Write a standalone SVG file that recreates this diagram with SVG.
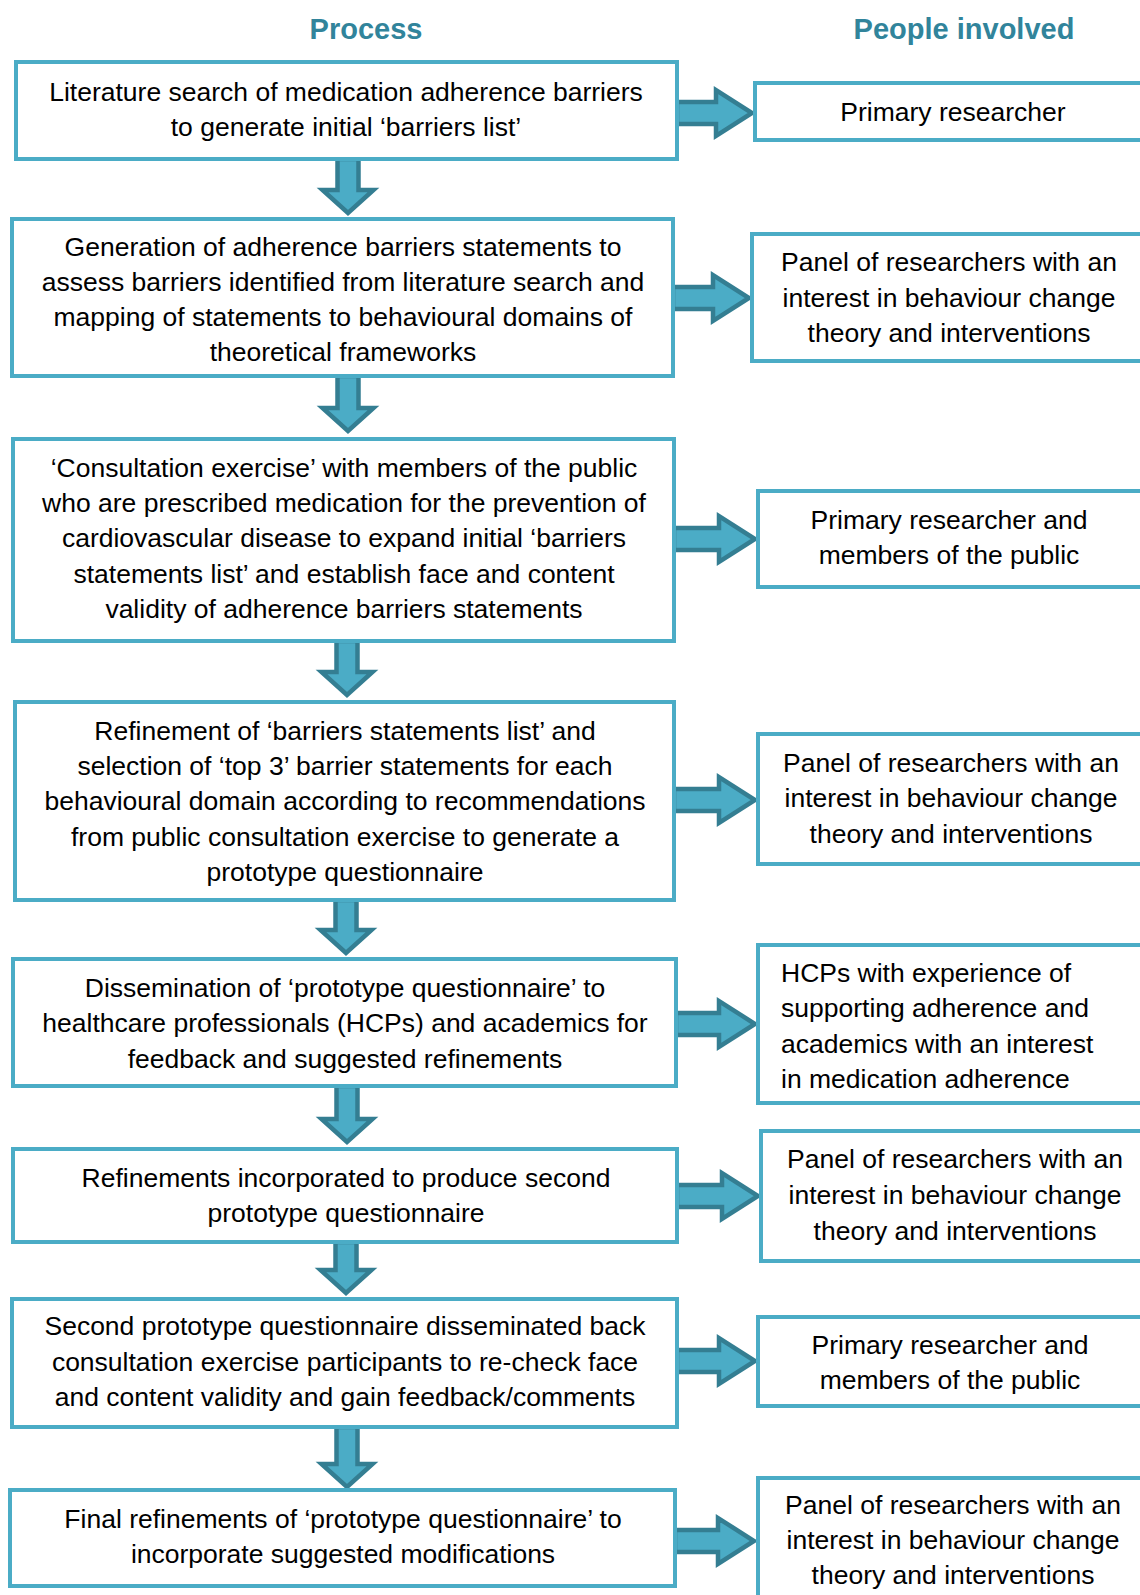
<svg xmlns="http://www.w3.org/2000/svg" width="1140" height="1595" viewBox="0 0 1140 1595">
  <style>
    .box { fill: #ffffff; stroke: #4BACC6; stroke-width: 4; }
    .arrow { fill: #4BACC6; stroke: #347E92; stroke-width: 4.5; stroke-linejoin: miter; }
    .hdr { font-family: "Liberation Sans", Arial, sans-serif; font-size: 29px; font-weight: bold; fill: #31849B; text-anchor: middle; }
    .t { font-family: "Liberation Sans", Arial, sans-serif; font-size: 26.5px; fill: #000000; text-anchor: middle; }
    .tl { font-family: "Liberation Sans", Arial, sans-serif; font-size: 26.5px; fill: #000000; text-anchor: start; }
  </style>

  <rect width="1140" height="1595" fill="#ffffff"/>

  <!-- column headings -->
  <text class="hdr" x="366" y="39">Process</text>
  <text class="hdr" x="964" y="39">People involved</text>

  <!-- block arrows -->
  <g id="connectors">
    <!-- downward steps -->
    <path class="arrow" d="M337.5,159 H358.5 V190 H373.5 L348,213 L322.5,190 H337.5 Z"/>
    <path class="arrow" d="M337.5,376 H358.5 V408 H373.5 L348,431 L322.5,408 H337.5 Z"/>
    <path class="arrow" d="M336.5,641 H357.5 V672 H372.5 L347,695 L321.5,672 H336.5 Z"/>
    <path class="arrow" d="M335.5,900 H356.5 V930 H371.5 L346,953 L320.5,930 H335.5 Z"/>
    <path class="arrow" d="M336.5,1086 H357.5 V1119 H372.5 L347,1142 L321.5,1119 H336.5 Z"/>
    <path class="arrow" d="M335.5,1242 H356.5 V1270 H371.5 L346,1293 L320.5,1270 H335.5 Z"/>
    <path class="arrow" d="M336.5,1427 H357.5 V1464 H372.5 L347,1487 L321.5,1464 H336.5 Z"/>
    <!-- sideways links to people involved -->
    <path class="arrow" d="M677,102 H716 V90 L752,113 L716,136 V124 H677 Z"/>
    <path class="arrow" d="M673,287 H713 V275 L749,298 L713,321 V309 H673 Z"/>
    <path class="arrow" d="M674,528 H719 V516 L755,539 L719,562 V550 H674 Z"/>
    <path class="arrow" d="M674,789 H719 V777 L755,800 L719,823 V811 H674 Z"/>
    <path class="arrow" d="M676,1013 H719 V1001 L755,1024 L719,1047 V1035 H676 Z"/>
    <path class="arrow" d="M677,1185 H722 V1173 L758,1196 L722,1219 V1207 H677 Z"/>
    <path class="arrow" d="M677,1350 H719 V1338 L755,1361 L719,1384 V1372 H677 Z"/>
    <path class="arrow" d="M675,1530 H718 V1518 L754,1541 L718,1564 V1552 H675 Z"/>
  </g>

  <!-- process steps -->
  <g id="step1">
    <rect class="box" x="16" y="62" width="661" height="97"/>
    <text class="t" x="346" y="101">Literature search of medication adherence barriers</text>
    <text class="t" x="346" y="136">to generate initial ‘barriers list’</text>
  </g>
  <g id="step2">
    <rect class="box" x="12" y="219" width="661" height="157"/>
    <text class="t" x="343" y="256">Generation of adherence barriers statements to</text>
    <text class="t" x="343" y="291">assess barriers identified from literature search and</text>
    <text class="t" x="343" y="326">mapping of statements to behavioural domains of</text>
    <text class="t" x="343" y="361">theoretical frameworks</text>
  </g>
  <g id="step3">
    <rect class="box" x="13" y="439" width="661" height="202"/>
    <text class="t" x="344" y="477">‘Consultation exercise’ with members of the public</text>
    <text class="t" x="344" y="512">who are prescribed medication for the prevention of</text>
    <text class="t" x="344" y="547">cardiovascular disease to expand initial ‘barriers</text>
    <text class="t" x="344" y="583">statements list’ and establish face and content</text>
    <text class="t" x="344" y="618">validity of adherence barriers statements</text>
  </g>
  <g id="step4">
    <rect class="box" x="15" y="702" width="659" height="198"/>
    <text class="t" x="345" y="740">Refinement of ‘barriers statements list’ and</text>
    <text class="t" x="345" y="775">selection of ‘top 3’ barrier statements for each</text>
    <text class="t" x="345" y="810">behavioural domain according to recommendations</text>
    <text class="t" x="345" y="846">from public consultation exercise to generate a</text>
    <text class="t" x="345" y="881">prototype questionnaire</text>
  </g>
  <g id="step5">
    <rect class="box" x="13" y="959" width="663" height="127"/>
    <text class="t" x="345" y="997">Dissemination of ‘prototype questionnaire’ to</text>
    <text class="t" x="345" y="1032">healthcare professionals (HCPs) and academics for</text>
    <text class="t" x="345" y="1068">feedback and suggested refinements</text>
  </g>
  <g id="step6">
    <rect class="box" x="13" y="1149" width="664" height="93"/>
    <text class="t" x="346" y="1187">Refinements incorporated to produce second</text>
    <text class="t" x="346" y="1222">prototype questionnaire</text>
  </g>
  <g id="step7">
    <rect class="box" x="12" y="1299" width="665" height="128"/>
    <text class="t" x="345" y="1335">Second prototype questionnaire disseminated back</text>
    <text class="t" x="345" y="1371">consultation exercise participants to re-check face</text>
    <text class="t" x="345" y="1406">and content validity and gain feedback/comments</text>
  </g>
  <g id="step8">
    <rect class="box" x="10" y="1490" width="665" height="96"/>
    <text class="t" x="343" y="1528">Final refinements of ‘prototype questionnaire’ to</text>
    <text class="t" x="343" y="1563">incorporate suggested modifications</text>
  </g>

  <!-- people involved -->
  <g id="people1">
    <rect class="box" x="755" y="83" width="400" height="57"/>
    <text class="t" x="953" y="121">Primary researcher</text>
  </g>
  <g id="people2">
    <rect class="box" x="752" y="234" width="400" height="127"/>
    <text class="t" x="949" y="271">Panel of researchers with an</text>
    <text class="t" x="949" y="307">interest in behaviour change</text>
    <text class="t" x="949" y="342">theory and interventions</text>
  </g>
  <g id="people3">
    <rect class="box" x="758" y="491" width="400" height="96"/>
    <text class="t" x="949" y="529">Primary researcher and</text>
    <text class="t" x="949" y="564">members of the public</text>
  </g>
  <g id="people4">
    <rect class="box" x="758" y="734" width="400" height="130"/>
    <text class="t" x="951" y="772">Panel of researchers with an</text>
    <text class="t" x="951" y="807">interest in behaviour change</text>
    <text class="t" x="951" y="843">theory and interventions</text>
  </g>
  <g id="people5">
    <rect class="box" x="758" y="945" width="400" height="158"/>
    <text class="tl" x="781" y="982">HCPs with experience of</text>
    <text class="tl" x="781" y="1017">supporting adherence and</text>
    <text class="tl" x="781" y="1053">academics with an interest</text>
    <text class="tl" x="781" y="1088">in medication adherence</text>
  </g>
  <g id="people6">
    <rect class="box" x="761" y="1131" width="400" height="130"/>
    <text class="t" x="955" y="1168">Panel of researchers with an</text>
    <text class="t" x="955" y="1204">interest in behaviour change</text>
    <text class="t" x="955" y="1240">theory and interventions</text>
  </g>
  <g id="people7">
    <rect class="box" x="758" y="1317" width="400" height="89"/>
    <text class="t" x="950" y="1354">Primary researcher and</text>
    <text class="t" x="950" y="1389">members of the public</text>
  </g>
  <g id="people8">
    <rect class="box" x="758" y="1478" width="400" height="140"/>
    <text class="t" x="953" y="1514">Panel of researchers with an</text>
    <text class="t" x="953" y="1549">interest in behaviour change</text>
    <text class="t" x="953" y="1584">theory and interventions</text>
  </g>
</svg>
